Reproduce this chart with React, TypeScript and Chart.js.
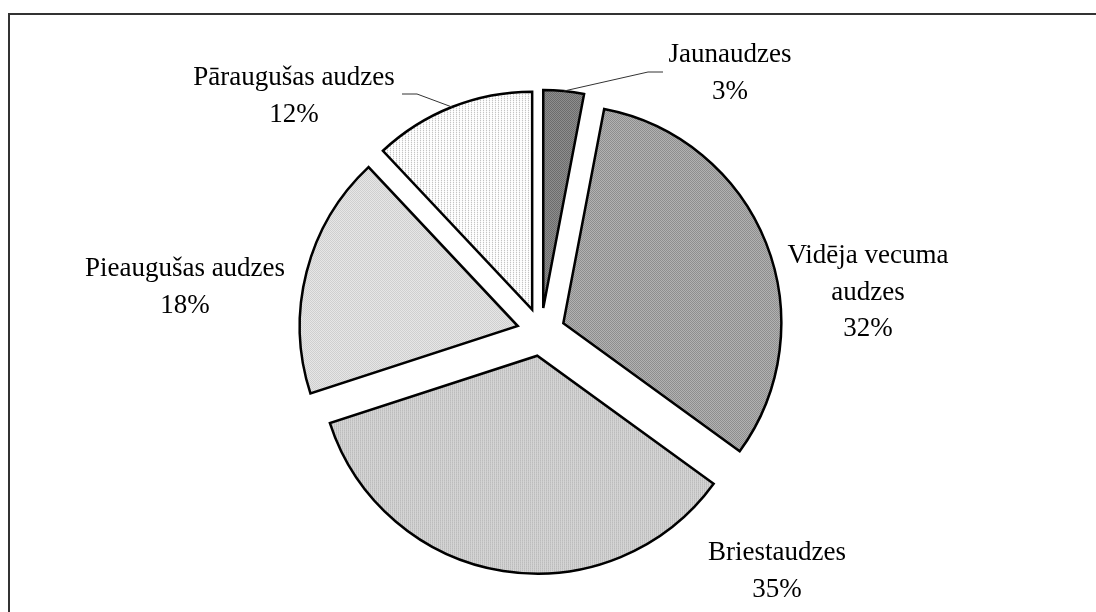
import React, { useEffect, useRef } from 'react';
import { Chart, registerables } from 'chart.js';

Chart.register(...registerables);

// ---- data ----
const categories: (string | string[])[] = [
  'Jaunaudzes',
  ['Vidēja vecuma', 'audzes'],
  'Briestaudzes',
  'Pieaugušas audzes',
  'Pāraugušas audzes',
];
const values = [3, 32, 35, 18, 12];

// ---- style / layout constants ----
const EXPLODE = 24;
const RADIUS = 218;
const FONT = '27px "Liberation Serif", "Times New Roman", serif';
const LINE_H = 36.5;
// first-baseline anchor of each label, relative to the pie centre
const LABEL_POS: [number, number][] = [
  [189, -270],
  [327, -69],
  [236, 228],
  [-356, -56],
  [-247, -247],
];
// leader lines: [startX, startY, elbowX, elbowY] relative to pie centre
const LEADERS: Record<number, [number, number, number, number]> = {
  0: [122, -260, 107, -260],
  4: [-139, -238, -124, -238],
};
const PATTERNS: string[][][] = [
  [['#6c6c6c', '#8e8e8e'], ['#8e8e8e', '#6c6c6c']],
  [['#8e8e8e', '#b2b2b2'], ['#b2b2b2', '#8e8e8e']],
  [['#bcbcbc', '#d4d4d4'], ['#c6c6c6', '#d4d4d4']],
  [['#cfcfcf', '#e6e6e6'], ['#e6e6e6', '#cfcfcf']],
  [['#c4c4c4', '#fafafa', '#fafafa'], ['#f0f0f0', '#ffffff', '#ffffff']],
];

function makePattern(grid: string[][]): CanvasPattern | string {
  const c = document.createElement('canvas');
  c.height = grid.length;
  c.width = grid[0].length;
  const g = c.getContext('2d')!;
  grid.forEach((row, y) =>
    row.forEach((col, x) => {
      g.fillStyle = col;
      g.fillRect(x, y, 1, 1);
    })
  );
  return g.createPattern(c, 'repeat') || grid[0][0];
}

const piePlugin = {
  id: 'pieExtras',
  beforeDraw(chart: any) {
    const ctx = chart.ctx;
    ctx.save();
    ctx.fillStyle = '#333333';
    ctx.fillRect(8, 13, chart.width, 2);
    ctx.fillRect(8, 13, 2, chart.height);
    ctx.restore();
  },
  beforeDatasetsDraw(chart: any) {
    const meta = chart.getDatasetMeta(0);
    meta.data.forEach((arc: any) => {
      arc._ox = arc.x;
      arc._oy = arc.y;
      const mid = (arc.startAngle + arc.endAngle) / 2;
      arc.x = arc._ox + Math.cos(mid) * EXPLODE;
      arc.y = arc._oy + Math.sin(mid) * EXPLODE;
    });
  },
  afterDatasetsDraw(chart: any) {
    const ctx = chart.ctx;
    const meta = chart.getDatasetMeta(0);
    const total = values.reduce((a, b) => a + b, 0);
    ctx.save();
    // leader lines
    ctx.strokeStyle = '#333333';
    ctx.lineWidth = 1;
    Object.keys(LEADERS).forEach((k) => {
      const i = Number(k);
      const arc: any = meta.data[i];
      const cx = arc._ox;
      const cy = arc._oy;
      const [sx, sy, ex, ey] = LEADERS[i];
      const mid = (arc.startAngle + arc.endAngle) / 2;
      const r = arc.outerRadius;
      ctx.beginPath();
      ctx.moveTo(cx + sx, cy + sy);
      ctx.lineTo(cx + ex, cy + ey);
      ctx.lineTo(arc.x + Math.cos(mid) * r, arc.y + Math.sin(mid) * r);
      ctx.stroke();
    });
    // labels
    ctx.font = FONT;
    ctx.fillStyle = '#000000';
    ctx.textAlign = 'center';
    ctx.textBaseline = 'alphabetic';
    categories.forEach((cat, i) => {
      const arc: any = meta.data[i];
      const cx = arc._ox;
      const cy = arc._oy;
      const lines = (Array.isArray(cat) ? [...cat] : [cat]) as string[];
      lines.push(Math.round((values[i] / total) * 100) + '%');
      const [dx, dy] = LABEL_POS[i];
      lines.forEach((t, j) => ctx.fillText(t, cx + dx, cy + dy + j * LINE_H));
    });
    ctx.restore();
    meta.data.forEach((arc: any) => {
      arc.x = arc._ox;
      arc.y = arc._oy;
    });
  },
};

export default function App() {
  const ref = useRef<HTMLCanvasElement>(null);
  useEffect(() => {
    document.body.style.margin = '0';
    document.body.style.overflow = 'hidden';
    const canvas = ref.current!;
    const chart = new Chart(canvas, {
      type: 'pie',
      data: {
        labels: categories as any,
        datasets: [
          {
            data: values,
            backgroundColor: PATTERNS.map(makePattern) as any,
            borderColor: '#000000',
            borderWidth: 2.5,
            borderJoinStyle: 'miter',
            radius: RADIUS,
          } as any,
        ],
      },
      options: {
        animation: false,
        responsive: false,
        devicePixelRatio: 1,
        layout: { padding: { left: 0, right: 14, top: 52, bottom: 0 } },
        plugins: { legend: { display: false }, tooltip: { enabled: false } },
        events: [],
      },
      plugins: [piePlugin as any],
    });
    return () => chart.destroy();
  }, []);
  return (
    <canvas
      ref={ref}
      width={1096}
      height={612}
      style={{ display: 'block', width: 1096, height: 612, background: '#ffffff' }}
    />
  );
}
